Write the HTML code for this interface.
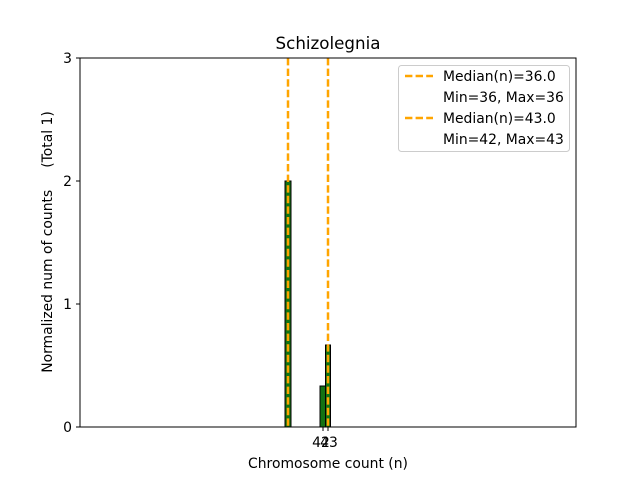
<!DOCTYPE html>
<html><head><style>body{margin:0;background:#fff}svg{display:block}text{font-family:"DejaVu Sans","Liberation Sans",sans-serif;white-space:pre}</style></head>
<body>
<svg width="640" height="480" viewBox="0 0 640 480" xmlns="http://www.w3.org/2000/svg" xml:space="preserve">
<rect width="640" height="480" fill="#fff"/>
<g stroke="#000" stroke-width="1">
<rect x="285" y="181" width="6" height="246" fill="#137313"/>
<rect x="320" y="386" width="5.5" height="41" fill="#137313"/>
<rect x="325.5" y="345" width="5" height="82" fill="#137313"/>
</g>
<g stroke="#ffa500" stroke-width="2.5" stroke-dasharray="7.4,3.2">
<line x1="288" y1="58" x2="288" y2="427"/>
<line x1="328" y1="58" x2="328" y2="427"/>
</g>
<rect x="80" y="58" width="496" height="369" fill="none" stroke="#000" stroke-width="1"/>
<g stroke="#000" stroke-width="1">
<line x1="76" y1="427" x2="80" y2="427"/><line x1="76" y1="304" x2="80" y2="304"/>
<line x1="76" y1="181" x2="80" y2="181"/><line x1="76" y1="58" x2="80" y2="58"/>
<line x1="323" y1="427" x2="323" y2="431"/><line x1="328" y1="427" x2="328" y2="431"/>
</g>
<g font-size="13.9" fill="#000" text-anchor="end">
<text x="72" y="432">0</text><text x="72" y="309">1</text><text x="72" y="186">2</text><text x="72" y="63">3</text>
</g>
<g font-size="13.9" text-anchor="middle">
<text x="321" y="447">42</text><text x="329" y="447">43</text>
<text x="328" y="468">Chromosome count (n)</text>
<text x="328" y="49" font-size="16.7">Schizolegnia</text>
</g>
<text font-size="13.9" text-anchor="middle" transform="translate(52,242) rotate(-90)">Normalized num of counts     (Total 1)</text>
<rect x="398.5" y="65.5" width="171" height="86" rx="3" fill="#fff" fill-opacity="0.8" stroke="#ccc"/>
<g stroke="#ffa500" stroke-width="2.5" stroke-dasharray="7.4,3.2">
<line x1="405" y1="76" x2="433" y2="76"/><line x1="405" y1="118" x2="433" y2="118"/>
</g>
<g font-size="13.9">
<text x="443" y="81">Median(n)=36.0</text>
<text x="443" y="102">Min=36, Max=36</text>
<text x="443" y="123">Median(n)=43.0</text>
<text x="443" y="144">Min=42, Max=43</text>
</g>
</svg>
</body></html>
